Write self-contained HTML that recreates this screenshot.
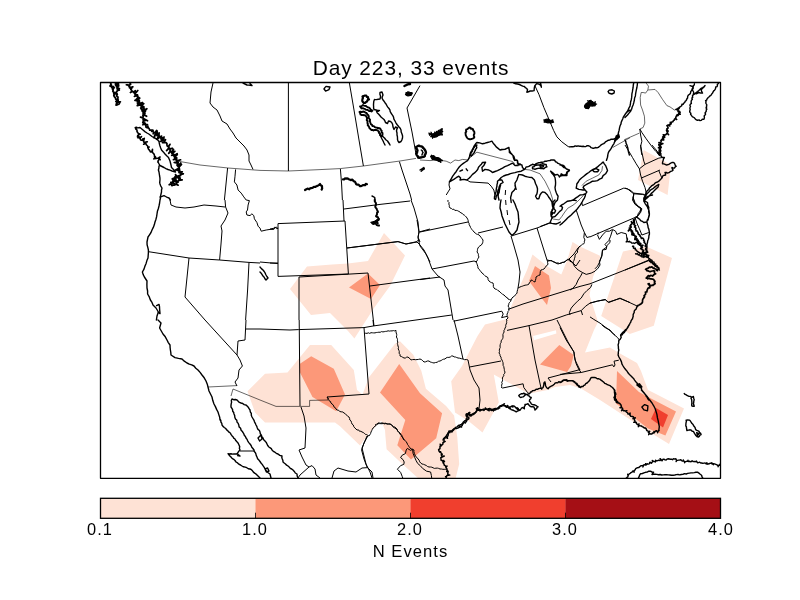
<!DOCTYPE html>
<html><head><meta charset="utf-8"><title>Day 223</title>
<style>
html,body{margin:0;padding:0;background:#fff;}
body{width:800px;height:600px;position:relative;overflow:hidden;font-family:"Liberation Sans",sans-serif;color:#000;}
.t{position:absolute;white-space:nowrap;line-height:1;will-change:transform;}
#title{left:0;width:822px;text-align:center;top:58.1px;font-size:20.9px;letter-spacing:0.93px;}
.tick{top:520.9px;font-size:16.4px;width:80px;text-align:center;letter-spacing:1.0px;}
#cbl{left:0;width:821px;text-align:center;top:543.7px;font-size:16.6px;letter-spacing:1.05px;}
</style></head><body>
<svg width="800" height="600" viewBox="0 0 800 600" style="position:absolute;left:0;top:0">
<defs><clipPath id="ax"><rect x="100.5" y="82.5" width="620" height="395.7"/></clipPath></defs>
<g clip-path="url(#ax)">
<path fill="#fee2d5" d="M290,289 307,266.4 332,264.4 348,263.6 368,261 384,233 405,255.6 390,286 374,308 354.4,338.4 348,331 330,313 311,315Z M532.5,254.5 547.5,266.5 561.3,274.5 567.5,259.5 572.5,242 580,246.5 600.5,256 598,265 593,277 589.5,295 595.5,314 598,322 594,330 585,352.5 610,347.6 620,353.6 637,363 641,371 648,390 656,394 684,408.4 669,444 656,436 640,426 600,400 581,388.5 570,385 555,387 547.5,390 528.8,393.8 493.8,374.5 498.8,402.5 482.5,432.5 468.8,421.2 455,412.5 451.2,381.2 462,366 477.5,336 485,324.5 507,319 511,307 519,288 527,270Z M623,251.5 646,246.4 672,258 653.8,325.8 629.8,334 601.2,316Z M643.6,150 671,165 667.6,195 638,180Z M247.5,391.2 265,373.8 287.5,372.5 310,345 331.2,345 353.8,370 357,390 362.5,394.5 368.8,377.5 395,343.8 400,341.3 413.3,354.7 421.3,370.7 425.9,388.8 446.1,405.9 454.1,415.5 457.3,437.3 459.2,464 455.2,480 420,480 417,477.2 399.4,461.2 386.6,449.2 385.5,437 385,430 381.2,420.5 367.5,435 360,445.5 340,426.2 335,422.5 265,422.5 255,412.5Z"/>
<path fill="#ffffff" d="M533,336 556,330.3 556.4,333.5 534,340.2Z"/>
<path fill="#fc9879" d="M349,287.6 368,273.6 380,285 371,299Z M300,363.8 311.2,356.2 333.8,368.8 345,394.5 336.2,411.2 312.5,397 300,372.5Z M399.2,364 420,393.3 442.1,413.3 436.2,438.3 411,459.6 397.3,445.3 405.3,420 380,392.5Z M535,266 549,275.6 551,288 547,305 540,296 529,281Z M540,364.5 559.3,345 573.7,355 571,366 567,372Z M617,371 639,392 652,399 676,411.6 665.4,435.6 648,428.4 616,403.6Z"/>
<path fill="#f03f2e" d="M656,408 668,415 663,427.4 651,419Z"/>
<path fill="none" stroke="#000" stroke-width="0.6" stroke-linejoin="round" d="M177,161 200,165 228,168 260,170.4 M260,170.4 288.4,171 320,169.6 340,168.6 363.4,166 400,161 416,158.4 M208,387 237,385.6 M231,396 233,389 260,400 M327,397 328,400 309.6,400.4 309.6,406.4 300,406.4 M260,400 276,406.4 300,406.4 M420,160 430,160.6 436.2,160 442.5,160.6 446.2,161.2 450.6,163.1 455,160 458.8,160.6 462.5,159.4 468.1,160 470,157.5 M470,157.5 476.9,152.2 512.5,161.5 515,163.8 M524.4,169.4 530,170 540,173.8 545,181.2 550,191.2 552.5,198.8 553.1,207.5 M581.9,185.6 586.2,181.2 592.5,178.1 598.8,175 601.9,170.6 602.5,166.2 M645.6,82.5 646.2,83.1 648.5,86.2 647.8,90 645.6,93.1 643.1,92.5 641.2,92.5 640.2,97.5 640.6,105 642.5,110 644.4,116.2 644.8,123.1 643.1,127.5 639.8,129 M648.1,90 655,89.4 658.1,92.5 662.5,99.4 666.9,105.6 670,106.9 674.4,110 676.2,109.4 M625,139.4 639.4,133.1 M612.9,147.4 630,137.7 M585,193.2 582,197 577.5,201.5 573,205.2 567.8,208.2 564.8,212 561.8,216.5 559.1,219.9 553.5,219.1 552,218"/>
<path fill="none" stroke="#000" stroke-width="1.0" stroke-linejoin="round" d="M213,83 211,92 210,103 213,107 217,110 220,116 222,121 227,124 230,129 233,133 236,138 240,142 244,146 247,150 249,155 249,161 251,165 253,169.4 M227.6,168 226,184 224.4,200 M278,223.6 345,221 348.4,274 278,276.4 278,223.6 M270,229 275,228 276.4,227 278,229 M270,263 278,263 M347,248 398,241.6 406,244 417,241.6 419,239 M299,277 368,273 374,326 M299,277 299,320 M370,286 430,278 M417,220 419,232 418,238 420,246 426,254 430,262 M419,232 430,229 M288.4,83 288.4,171 M349.4,83 354,110 359,140 363.4,166 M340.4,169 341.6,184 342.4,200 M399.4,161.6 402,170 406,182 410,194 411.6,200 M420,85.6 407,108 412,132 416,154 M170,200 171,205 176,207 185,208 194,207 204,205 216,206 225,207 M225,200 225.6,207 228,213 225,220 221,226 222,231 221,244 219.6,260 M148,251.6 189,258 219.6,260 249,262.4 260,263 M189,258 185,297 205,320 M249,262.4 247.6,290 245.6,320 M420,232 468,222 M448,200 447.9,201.4 449.1,202.6 448.8,204 449.3,205.3 449.3,206.8 450,208 451.3,208.4 452.4,209.4 453.9,209.2 454.8,210.4 456.3,210.4 457.6,210.7 458.8,211.4 460,212 460.9,212.9 462.3,213.4 463.1,214.5 464.3,215.1 465.3,216 466.2,216.9 467,218 467.7,219.2 468.2,220.6 468.3,222.1 469.1,223.3 469.2,224.8 470,226 470.5,227.4 471.3,228.6 472.1,229.8 473.1,230.8 474,232 475.1,232.9 476.2,233.9 477.6,234.4 479,234.9 480,236 481,237.3 482,238.7 483,240 482.9,241.4 482.7,242.8 482,244 481.2,245.2 479.9,245.9 478.8,246.8 478,248 477.5,249.3 477.4,250.7 477,252 477.9,253.1 478.4,254.3 478.4,255.8 479,257 478.2,258.2 477.5,259.5 477,260.9 476,262 476.8,263.4 477.3,264.9 477.8,266.4 478,268 478.9,269.3 480.1,270.4 481,271.8 482,273 483,273.8 484,274.7 484.9,275.7 485.8,276.5 487.2,276.9 488,278 488.1,279.6 489,281 490.2,282 491.5,282.6 493,283 493.4,284.7 493.3,286.4 494,288 495.1,289 496.6,289.3 497.7,290.4 499,291 500.1,292.2 501.4,293.2 502.5,294.3 504,295 505,296 505.9,297.1 507.3,297.7 508,299 509.5,299.6 511,300 510.7,301.3 509.6,302.3 508.9,303.4 508.7,304.9 508,306 508.9,307.4 509,309 508.9,310.4 508,311.5 507.8,312.9 507,314 507.1,315.4 507.6,316.7 508,318 507,319 506,320 M478,233 503,227 M507,210 507.6,215 M509,220 510,225 M511,236 514,246 518,260 520,272 519,282 518,288 M512.4,235.6 537,228 550,223 M537,228 542,244 547,260 M547,260 547.5,261.3 547.6,262.7 548,264 547.2,265.4 545.8,266.3 545,267.8 544,269 542.5,269.6 541,270 540.3,271.6 540.1,273.3 540,275 538.5,275.4 537.3,276.2 536,277 535.9,278.7 535.4,280.4 535,282 533.6,281.5 532.5,280.4 531,280 530.7,281.5 529.4,282.5 529,284 527.8,284.7 526.5,285 525.1,285.2 523.8,285.6 522.6,286.1 521.3,286.5 520,287 518,288 517.6,289.7 517.2,291.3 517,293 516.2,294.2 515.1,295.1 514.3,296.3 513,297 512,298 511,300 M547,260 552,261 558,264 564,262 569,259 572,262 576,266 580,260 M569,259 574,254 578,248 580,246 M432,269 474,261 477,262 M420,245 424,250 428,258 432,269 438,276 444,280 445,286 448,290 451,308 453,320 M420,279.6 440,277 M508,309.4 523,304 580,286.4 M453.6,321.2 501.8,311.2 503.2,314 501.6,317.6 507,316.4 M260,262 278,263.6 M343,200 344,221 M344,209 380,204.4 410,201 M411,200 414,208 418,222 419,232 418,237 420,242 M347,248 398,241.6 406,244 417,242 420,245 M205,320 237,355 M246,320 245,340 238,341 237,355 240,360 242.4,366 239,370 238,378 235,382 237,386 M246,329 260,329 M260,329 290,330 298.4,329.6 364,327.6 373,326 451.8,315 M373,320 373.6,326 M299.2,320 300,406 M364,327.6 369,394 M364.4,333.6 365.7,333.2 367,333.4 368.3,332.8 369.7,333.4 371,332.7 372.3,332.8 373.6,332.9 375,332.9 376.3,332.5 377.6,332.4 378.9,332.2 380.2,332.3 381.5,331.6 382.9,331.9 384.2,331.7 385.5,331.4 386.8,331.3 388.1,330.8 389.4,331.1 390.7,330.9 392.1,330.9 393.4,330.6 394.7,330.9 396,330.4 396,331.7 396.2,333 396.7,334.3 396.7,335.6 396.4,337 397.1,338.2 397.5,339.5 397.4,340.8 397.8,342.1 397.4,343.4 397.7,344.7 398,346 398.5,347.4 398.2,348.9 398.9,350.3 399.3,351.7 399.1,353.2 400,354.5 400,356 401.4,356.5 402.7,357.3 404,358 405.4,358 406.6,357.2 408,357 409,358 410.2,358.8 411,360 412.5,359.6 414,359.5 415.5,359.7 417,359.6 418.5,359.4 420,359 M369,394 327,397 M327,397 328.1,397.9 328.6,399.4 329.1,400.8 330.6,401.5 330.9,403 332,404 333.1,404.8 333.7,406 334.2,407.2 335.5,407.9 336,409.1 337,410 338.6,410.2 339.7,411.5 341.2,411.8 342.8,412 344,413 345.4,413.8 346.5,415 347.6,416.2 349,417 349.6,418.4 349.8,420 351.1,421.1 351.5,422.6 352,424 353.3,425 353.8,426.7 354.8,427.9 356,429 357,430 358.6,429.9 359.4,431.2 360.9,431.3 362,432 363.3,432.5 364.3,433.3 365.3,434.3 366.7,434.6 367.8,435.4 369,436 369.8,434.8 370.6,433.5 371,432 371.7,430.7 372.3,429.3 373,428 374.2,427.2 375,426 376.3,425.3 377.3,424.3 378,423 379.3,422.9 380.6,423.7 382,423.7 383.3,423.5 384.6,423.9 386,423.5 387.3,423.8 388.7,424 390,424 391.3,424.6 392.2,425.8 393.5,426.6 394.9,427.1 396,428 397,429.1 397.4,430.6 398.5,431.5 399.4,432.7 400,434 400.8,435.2 401.9,436.2 402.7,437.4 403.3,438.7 404,440 M454,320 458,336 463,359 M420,359 421.6,359.7 422.8,360.8 424,362 425.7,361.8 427.3,361 429,361 430.1,361.9 431.4,362.3 432.7,362.7 434,363 435.5,362.5 437.1,362.3 438.4,361.3 440,361 441.2,360.5 442.3,359.7 443.6,359.2 445,359 446,358 447.3,357.4 448.9,357.4 450.3,357 451.5,356 453,356 454.1,356.9 455.5,357 456.7,357.5 458,358 459.7,358.2 461.3,358.7 463,359 464.6,359.7 466.4,359.5 468,360 M468,360 470,370 474,380 479,388 480,400 479,409 M469.6,367 501,361 M507,320 506.6,321.3 506.7,322.7 506.2,324 505.7,325.3 505.8,326.8 505,328 504.7,329.3 503.9,330.6 504.1,332 503.4,333.3 502.9,334.6 503,336 503,337.4 502.7,338.6 501.9,339.8 501.1,340.9 501.2,342.3 500.5,343.4 500.2,344.7 500,346 500.2,347.5 499.6,348.8 499.3,350.2 499.5,351.6 499,353 499.9,354.3 500.1,355.9 501,357.1 501.2,358.7 502,360 502.5,361.3 503,362.6 503.1,364 503.1,365.4 503.8,366.6 504,368 504.3,369.3 504.4,370.7 505,372 504.7,373.3 503.7,374.3 503.8,375.8 503,376.8 502.4,378 502.5,379.4 502.5,380.9 501.7,382.3 502.2,383.7 501.6,385.1 501.7,386.6 501.6,388 M502.2,388.1 523.1,383.8 523.8,387.5 527.5,392.5 529.4,393.8 M507,330.4 529,325.6 552,320 M529,325.6 535,360 541,388 542,390 M557,320 568,342 574,352 575,360 580,370 M551,382 548,378 580,369.6 M240,451 254,451 M301,407 304,416 306,428 305,448 299,450 302,457 306,465 309,467 300,475 298,478 M309,467 312,465.6 315,469 316,475 320,478 M368,435.6 364,443 361.6,450 364,459 367,467 372,472 373,478 M332,478 334,471 338,468 348,471 356,472 362,468 368,467.6 M375,425 376.4,424.3 377.9,423.7 379.5,423.6 381,423 382.5,422.9 384,423.4 385.5,423.2 387,424.1 388.5,424 390,424 391.1,424.7 392.3,425.4 392.8,426.7 393.8,427.6 395.1,428.1 396,429 397.3,429.7 397.7,431.3 398.7,432.3 400,433 400.8,434.2 401.8,435.3 402.1,436.9 403,438 403.7,439.5 405.1,440.4 406.1,441.7 407,443 407.5,444.4 408.4,445.5 409.1,446.8 410.1,447.9 411,449 412.6,449.3 414,450 413.9,451.7 414.4,453.4 415,455 415.7,456.5 417.1,457.6 418,459 419.1,460.1 419.7,461.8 420.7,463 422,464 423.5,464.3 424.9,464.9 426.3,465.5 427.5,466.5 429,467 430.4,467 431.8,467.2 433.1,467.8 434.4,468.4 435.9,468.2 437.3,468.1 438.7,468.4 440,469 441.4,469 442.8,469.3 444.2,469.3 445.7,469.4 447,470 M367,436 362,448 366,464 370,472 372,478 M449.4,181.9 449,185 450,188.8 448.1,191.9 446.2,195 M466.9,180 470,181.9 488.1,183.1 491.2,186.2 493.8,190 495,195 M505.6,190 505.2,195 M505.6,200 506,205 M581.9,203.1 582.5,205.6 623.8,188.1 627.5,188.8 631.2,191.9 633.8,193.8 M633.8,193.8 633.1,197.5 635,202.5 638.1,206.2 641.2,208.1 640,211.2 638.1,213.8 637.5,216.2 635,218.8 633.8,221.9 M576.2,210 581.2,225 M633.8,193.8 642.5,194.4 646.2,195.6 M639.8,129 641.9,132.5 646.2,138.8 651.2,145.6 655.6,151.2 658.8,153.8 M639.8,129 640.6,135 641.9,141.2 640.6,146.2 641.2,151.2 641.9,155 M625,145 628.8,151.2 632.5,157.5 636.2,163.8 639.4,168.8 640.6,175 642.5,181.2 645,187.5 646.2,192.5 645.6,195 644.4,198.8 M640.6,145 641.9,152.5 643.8,161.2 645,164.4 M651.9,145 656.2,150 660,156.2 M639.4,168.8 645,164.4 658.8,158.1 662.5,157.5 M641.2,178.1 660,170 M658.8,170.6 661.9,178.1 M625,188.1 630,190 633.8,193.1 644.4,194.4 M633.8,193.1 633.1,198.8 635,203.8 638.8,207.5 641.9,208.8 640.6,212.5 637.5,216.2 635,218.8 632.5,220 M633.8,195 632.5,200 635,204.4 639.4,206.9 641.2,208.8 640,212.5 638.1,215.6 635,217.5 M590,236.9 635,217.5 M635,217.5 636.9,223.1 639.4,228.8 641.9,235 648.8,232.5 M597.5,235 599.4,239.4 602.5,235 606.2,231.2 609.4,231.2 612.5,229.4 615.6,231.2 616.9,234.4 621.2,232.5 626.2,233.8 626.9,238.1 M612.5,230 610.6,236.2 608.8,240.6 605,244.4 606.9,246.9 602.5,250 601.9,255 600,261.2 597.5,266.2 595,268.8 M625,270 648.8,260 M590,283.8 648.8,260.6 M590,303.1 597.5,301.2 605,299.4 608.8,302.5 620,298.1 637.5,306.2 M590,316.9 593.8,319.4 600,323.1 605,326.9 610,330.6 613.1,333.8 615,335 M560,327.5 566.2,340 573.8,351.9 574.4,356.2 576.2,363.8 578.8,369.4 581.2,372.5 M560,374.4 581.2,372.5 612.5,364.8 613.8,366.9 615,365 614,361.2 618.8,360.2 M601.9,325 605,327.5 610,330 613.8,334.4 617.5,337.5 619.4,340 M547.5,261.2 548.9,260.9 550.4,260.5 551.9,260.6 553.1,261.8 554.9,262.2 556.2,263.1 557.9,262.9 559.6,263.5 561.2,263.1 562.4,262.3 563.8,262.5 565,261.9 566.2,260.5 567.5,259.4 568.9,260.1 570,261.2 571.6,262.1 573.1,263.1 573.3,261.6 574.1,260.2 574.4,258.8 575,256.9 575,255 576.2,253.7 577.5,252.5 577.5,250.6 578.1,248.8 578.9,247.4 580,246.2 581.2,245.4 582.3,244.3 583.8,243.8 584.4,242.6 584.3,241.1 585,240 M573.1,263.1 574.4,266.2 578.1,270 582.5,272.5 M582.5,272.5 586.2,274.4 591.2,273.1 595,271.2 598.1,268.1 600,265 599.4,261.2 601.9,256.2 602.5,250 606.2,249.4 606.9,245.6 610,242.5 610,240 M582.5,272.5 580.6,276.2 578.1,280 576.2,284.4 573.1,288.1 570,290 M591.9,284.4 590.6,287.5 586.9,290.6 583.8,293.8 581.2,298.1 577.5,301.2 573.8,305 571.2,308.1 569.4,312.5 570,315 M566.2,315 581.2,310.6 585.6,306.2 590,303.1 597.5,301 605.6,299.8 608.1,302.2 620,298.5 630,302.5 M581.2,310.6 582.5,315 M534.9,85.7 539,94.6 543.9,107.6 548.8,119 553.6,130.4 556.9,136.9 561.8,141.8 568.2,146.6 569.9,146.9 M552,320 566.2,315 M540,226.6 549.4,222.9 M581.2,225 584.4,232.5 586.9,237.5 590,236.7 M585,240 583.8,237.5 584.4,232.5 M598.1,232.5 598.1,234.4 M580,286.4 590,283.8 M235.6,169.4 235,176.2 234.4,181.9 236.9,185 238.1,190 241.2,193.1 243.8,196.9 246.2,200 249.4,200.6 248.1,205 247.5,210 246.2,211.9 246.9,215 250,215.6 251.9,213.8 253.8,215.6 254.4,218.8 256.9,222.5 258.1,226.2 260,228.1 261.2,231.2 266.2,230 270,229.4 273.8,229.4 275,226.9 276.9,228.8 278.1,228.1 M412.6,449.2 410.6,450.4 407.4,448.4 406.2,450 405.4,453.6 402.2,455.2 400.6,457.6 403,459.6 404.2,462 403.8,464.4 400.6,465.6 397.4,469.2 400.6,472.4 402.2,476.4 403,478.8 M412.6,449.2 413,453.2 414.6,457.2 416.2,460.8 417.8,463.6 420.2,465.6 422.6,468.4 426.6,471.2 430.6,472 431.4,475.6 431.8,478.8"/>
<path fill="none" stroke="#000" stroke-width="1.4" stroke-linejoin="round" stroke-linecap="round" d="M135.5,128 137.8,127.9 140,127.5 143,130 144.9,131.6 147,133 148.8,134 150.4,135.2 152,136.5 154.4,137.9 157,139 159,141.5 159.4,143.8 160,146 160.7,148 161.5,150 163.3,151.9 165,154 166.7,155.8 168.5,157.5 170,161 170.5,163 171,165 171.5,167.5 174,170 175.5,172 172,171 170,170.2 168,169.5 165.9,168.6 164,167.5 162,166.5 160,165.5 159,163.8 158,162 M159,166 158.9,168 158.4,170 159,172 159.3,174 159.6,176 159.9,177.6 160,179.2 159.9,180.8 159.7,182.4 160,184 160.8,186.1 162,188 161.5,190 161.5,192 161,194 160.6,196 160.5,198 160,200 M160,197 162,196.4 164,195.6 165.6,196.5 167.3,197.4 169,198 170.4,200 M243,83 245,84 247,85 248.7,85.1 250.4,85.2 252,85.6 250,83.6 M371,222.4 373,221.8 375,221.6 376.4,222.7 378,223.6 377.6,221.8 377,220 M324,89 324.9,87.6 326,86.4 328,86.7 330,87 329,89.6 327.3,90.4 325.6,91 324,89 M372,196 373.7,196.8 375,198 374.4,200 M160,200 159.6,203 159,206 158.3,208.7 157.4,211.3 157,214 156.6,216.7 155.9,219.4 155,222 154.3,224.8 153.3,227.4 152,230 151,232.5 149.5,234.8 148,237 147.5,239.5 147,242 147.1,244.7 147.8,247.4 148.4,250 148.4,252.7 148.2,255.3 148,258 146.9,260.6 146.1,263.4 145,266 144,269.1 142.4,272 143.2,274.6 144.4,277 147,281 146.9,284.5 147,288 147.6,291 147.6,294 149.3,296.9 150.4,300 152,302.4 153,305 156,308 158.4,312 157,316 156.4,320 M156.6,305.6 159,304.4 159.5,306.7 159.6,309 159.8,311.3 160,313.6 158,312 M501,200 500.3,204 500,208 501.2,212 502,216 503.5,220 505,224 507,228 509,232 512,235.6 514.7,233 517,230 517.9,226 519,222 518.6,218.7 518.4,215.3 518,212 516.4,208 515,204 513,200 M260,267 261.4,268.6 263,270 264.2,271.5 265.2,273.2 266,275 266.9,276.5 268,278 266,280 264.9,278.7 264.2,277.2 263,276 262.1,274.6 261.2,273.2 260,272 M158,320 161,323 160.3,325.5 159.6,328 161.3,331 163,334 165.3,336.8 167,340 168.3,342.6 170,345 170.1,347.5 170.4,350 170.8,352.5 171,355 175,357.6 178.5,358.4 182,359 184.3,361.2 187,363 189.3,364.1 191.7,364.9 194,366 195.8,368.2 198,370 200.1,372.4 202,375 204.2,377.8 206,381 207.2,383.9 208,387 209,391 210.5,394 212,397 212.8,400.6 214,404 215.4,406.6 216.6,409.4 218,412 218.8,414.6 219.7,417.3 220,420 M443,440 443.7,438.4 445,437.2 446.2,436 447.2,434.5 448,433 449.4,432.3 450.5,431.2 451.9,430.7 453,429.6 454.4,428.7 455.6,427.4 457.2,426.8 458.4,425.5 460,425 461.4,424.3 462.6,423.3 463.4,421.9 464.5,420.9 466,420.2 467,419 467,417.3 467.4,415.6 468,414 470,416 471.1,414.8 472.6,413.9 474.1,413.1 475.6,412.4 476.5,410.8 478,410 479.7,410.3 481.2,409.7 482.8,409.8 484.4,409.5 486,409 M486,409 487.5,410 488.8,410.1 490,409.7 491.2,410.5 492.5,410.4 493.8,410 495,410 496,409.5 496.7,408.5 497.7,407.9 498.8,407.5 499.5,406.4 500.6,405.6 502.1,405.8 503.5,405.3 505,405.6 505.7,406.6 507.1,406.5 508,407.2 508.8,408.1 510.2,408.4 511.1,409.6 512.5,410 513.8,410.5 515,411.2 516.2,411.9 517.4,411.1 518.8,410.7 520,410 520.8,409.1 521.5,408.1 522.5,407.5 523.5,408.1 524.4,408.8 524.3,407.6 524.3,406.5 525.2,405.5 525,404.4 526.6,404.2 528.1,403.8 528.9,405.1 530,406.2 531.2,406.8 532.5,406.6 533.8,406.9 534.3,407.9 534.7,408.9 535,410 535.7,409.2 536.7,408.6 537,407.3 538.1,406.9 537.1,406.3 536.1,405.6 535,405 533.7,404.7 532.3,404.6 531.2,403.8 530.5,402.4 529.4,401.2 529.6,399.8 530.7,398.8 531.2,397.5 530.1,397.2 529.4,396.2 528.1,395.6 527.5,394.4 526.1,394.3 524.9,394 523.8,393.1 522.6,393.8 521.2,393.8 519.9,394.5 518.8,395.6 519.5,396.7 520.6,397.5 521.8,397.1 523.1,396.9 524.2,396 525,395 526.2,394.6 527.5,394.2 528.8,393.8 529.9,393.3 530.5,392 531.8,391.7 532.5,390.6 533.8,390.5 535,390.2 536.1,389.2 537.5,389.4 538.6,388.7 539.9,388.3 541.2,388.3 542.5,388.1 543.2,387.2 543.5,386 543.8,384.9 543.8,383.8 544.1,382.6 545,381.9 545.1,383.2 545.4,384.4 545.6,385.7 546.2,386.9 547,388 548.1,388.8 548.9,387.6 550,386.8 551.2,386.2 552.4,385.7 553.3,384.9 554.3,384.2 555,383.1 556.2,382.8 557.6,382.9 558.7,381.8 560,381.9 561.4,381.8 562.6,381.3 563.7,380.3 565,380 566.3,379.7 567.5,380.4 568.7,380.7 570,380.6 571.3,380.7 572.6,380.6 573.8,381.2 574.8,381.9 575.4,383.1 576.8,383.3 577.5,384.4 578,385.5 579.3,385.9 580,386.9 M220,419 220.8,420.4 220.9,422 221.8,423.4 222,425 223,426.4 224.3,427.5 225.7,428.5 226.7,429.9 228,431 229,432.2 230.3,433 231,434.4 231.9,435.7 233,436.7 233.7,438.1 235,439 235.8,440.6 237.1,441.9 238.2,443.3 239,445 239.7,446.6 239.4,448.4 240,450 238.8,451.2 237.9,452.6 237,454 235.5,454 234,453.9 232.5,454.1 231,453.7 229.5,454 228,453.6 228.9,454.8 229.9,456 231,457 232.1,458.4 233.7,459.3 235,460.5 236,462 237.6,462.9 238.9,464.2 240.5,465 242,466 243.5,466.8 245.2,467.1 246.8,467.7 248.3,468.8 250,469 251.4,469.7 252.5,470.8 253.4,472.1 254.6,473.1 255.9,473.9 257,475 258.5,476.5 260,478 M232,399 231.3,400.5 231.6,402.2 231.2,403.8 231,405.4 231,407 231.9,408.3 232.6,409.6 232.7,411.2 233.7,412.5 234,414 234.7,415.6 234.8,417.3 235.5,418.9 236.8,420.3 237,422 238.2,423.4 238.8,425.1 239.1,426.9 240.6,428.2 241,430 242.1,431.2 243,432.5 243.8,433.8 244.3,435.3 245.4,436.5 246,438 247.1,439.4 247.8,441.1 248.8,442.6 250,444 251.1,445.5 251.8,447.2 252.9,448.5 254,450 254.3,451.5 255.4,452.7 255.9,454.1 256.3,455.6 257,457 257.6,458.7 258.9,460.1 260,461.5 261,463 262.2,464.4 263.2,465.9 264.2,467.3 265,469 265.9,470.6 267.2,471.8 268.5,473 270,474 270.5,476 271,478 M232,399 233.6,399.7 235.4,399.5 237,400 238.2,401.2 239.4,402.4 241,403 242.7,403.5 244.2,404.6 246,405 247.1,406.1 248.3,407.3 249.1,408.7 250,410 250.3,411.8 251.3,413.4 251.3,415.3 252,417 252.9,418.5 253.9,420.1 254.5,421.8 255.3,423.3 256,425 256.8,426.4 257.3,428 258,429.4 259.4,430.5 260,432 260.3,433.7 261.4,435.1 261.8,436.7 263,438 263.7,439.7 265,441 266.2,442.4 267,444 267.7,445.5 268.6,446.7 269.9,447.7 271.3,448.6 272,450 273.3,451.3 274.9,452.2 276.3,453.3 278,454 279.8,455.4 282,456 281.8,457.6 282.3,459 282.9,460.5 283,462 284.2,463 285.5,464 286.6,465.2 288,466 289.2,467.1 290.3,468.3 291.7,469 293,470 294.3,471.4 295.3,473 297,474 297.2,476.1 298,478 M258,438 261,435 262,439 259.6,441 258,438 M265,469 267.6,468 269,471 266.4,472 265,469 M237,453.6 240,456 237.6,455.6 M684.2,393.6 685.1,394.4 686.3,394.9 687.4,395.7 688.6,396.2 690.3,396.4 691.8,397.3 693.4,396.5 693.7,398.2 694.2,399.8 693.8,401.1 693.7,402.5 693.4,403.8 693.9,405 694.2,406.2 693,406.3 691.8,405.9 691.7,404.4 691.9,402.9 691.8,401.4 691.7,399.7 691,398.1 M686.1,420.1 687.8,419.9 689.4,420.1 690.4,421 691.1,422.2 691.8,423.3 692.8,424.2 693.5,425.4 694.2,426.6 695.1,427.5 695.3,428.7 695.9,429.8 696.9,430.4 698.1,430.8 699.1,431.4 699.6,432.6 700.7,433.4 701.1,434.7 699.9,435.2 699.3,436.4 698.3,437.1 696.9,436.5 695.9,435.5 695,434.2 694.2,432.8 693.4,431.4 692.2,431.2 691.3,430.2 690.2,429.8 688.5,430.1 686.9,430.6 686.7,429.4 686.5,428.2 686.4,426.9 685.8,425.8 685.9,424.3 686,422.9 686.4,421.5 686.1,420.1 M696.7,432.6 699.1,433.6 697.5,435.5 696.7,432.6 M625.2,478.6 626.4,478.3 627,477.4 627.9,476.9 628,475.6 627.7,474.3 628.3,475.3 628.6,474.6 629.2,473.8 630.2,473.3 631,472.6 632,472.2 632.5,471.2 633.4,471.5 632.8,471 633.7,471.3 634.1,472.2 634.1,471.1 634.3,470.3 635.2,469.8 635.7,468.6 636.6,468.1 637.5,467.7 638.7,467.6 639.5,466.9 640.3,466.2 641.2,465.7 642.2,465.6 643.2,465.3 642.9,467 643.6,465.2 644.1,464.6 645.3,465 646.3,464.8 645.6,463.6 646.7,464.6 647.1,463.8 648.3,464.1 649.3,463.9 649.8,462.3 651.2,463.3 650.2,462.3 651.6,463.1 652,462.3 652.8,461.6 652.3,460.4 653.2,461.5 653.8,461.2 655.2,462 655.9,461.1 655.6,460.2 656.3,460.9 656.9,460.7 657.9,460.5 658.9,460.2 659.9,460.6 660.9,459.8 660.1,458.6 661.3,459.7 662,460.8 662.9,459.3 663.9,459.2 665,459.9 666.1,460 667.1,459.1 668.2,458.8 669.3,459 670.4,459.2 671.5,459.1 672.6,459.7 673.6,458.6 674.8,459.1 675.9,458.7 676.5,460.3 676.1,461.6 676.9,460.4 677.5,460.4 678.6,460.1 679.7,460 680.8,459.8 681.6,460.6 682.5,461.1 683.6,461.1 683.3,460 683.9,461.2 684.5,461.5 684.6,462.7 684.9,461.6 685.6,461.7 686.7,461.3 687.8,461.3 688,460.1 688.1,461.3 688.8,461.5 689.9,461.3 691,461.8 692.1,460.8 693.2,461.6 694.2,461.5 695.3,461.7 696.5,461.1 697.4,462.7 698.5,462.6 699.7,462.2 700.7,463 701.8,463 702.8,463.4 704,463.1 705.1,462.9 706,463.9 707,464.1 706.8,462.6 707.4,464.2 708,464 709.1,463.8 710.2,463.2 711.2,463.2 712.1,463.9 711.9,462.8 712.5,464 713.4,463.8 713.4,464.8 713.8,463.8 714.6,463.9 715.8,464.3 717,464.8 717.9,465.7 718.2,466.7 718.3,465.8 719.1,464.9 720,465.4 719.9,464.3 720.4,465.4 721.1,465.6 721.3,466.7 721.5,465.6 M638.2,478.6 639,476.9 639.6,475.2 640.6,473.7 642.4,473.5 643.9,472.8 645.5,472.3 647.2,472.1 648.8,471.2 650.4,471.2 652,472 653.6,472.1 652,474.5 653.6,474.3 655.2,474.3 656.9,474.4 658.5,474.7 660.1,474.5 661.7,475 663.4,474.9 665,474.7 666.6,474.7 668.3,474.9 669.9,475 671.5,475.3 673.1,475.2 674.8,475 676.3,474.6 678,474.5 679.7,474.9 681.2,474.5 682.9,474.4 684.4,473.6 686.2,474 687.7,473.4 689.4,473.1 691,472.9 692.7,472.9 694.3,472.6 695.9,472.2 697.5,472.1 698.9,473.1 700.2,474.3 701.6,475.3 702.1,477.1 703.2,478.6 M641.9,407.1 644.7,404.6 647.9,405.9 647.5,410.8 643.9,409.8 641.9,407.1 M641.4,390 644.3,393.3 647.1,396.5 649.5,399.8 652,403 653.7,405.8 655.2,408.7 656.9,414.4 657.4,417.7 658.2,420.9 659.3,426.6 658.8,430.6 M421.2,150 422.2,150.6 422.4,151.7 423.1,152.5 422.4,153.7 421.9,155 M420,170 421.9,168.8 423.8,167.5 424.4,168.8 422.7,169.9 421.2,171.2 M449.4,181.9 451.2,178.8 452.7,176.2 454.4,173.8 456.1,171.7 457.5,169.4 459.2,167 461.2,165 463.3,163.4 465.4,162 467.5,160.6 468.6,158.9 469.4,156.9 469.9,154.7 470.6,152.5 471.9,150.3 473.1,148.1 474.2,145.8 475.6,143.8 476.9,142.5 479.7,142.9 482.5,143.8 485,143.2 487.5,142.5 489.7,141.9 491.9,141.2 493.2,143.2 494.8,145 496.2,146.9 498.1,148.4 500,150 502.5,149.5 505,149.4 506.8,148.3 508.8,147.5 509.3,150 509.4,152.5 511.7,154.2 513.8,156.2 515,160 517.5,160.6 518.1,163.8 520,164.4 M470.6,154.4 471,153.3 471.5,152.2 472.3,151.2 472.5,150 473.3,149.3 473.4,148.2 474.2,147.5 474.8,146.7 475,145.6 476.9,145 476.4,146.2 476.8,147.6 476.2,148.8 475.4,149.4 475.4,150.6 474.5,151.3 474.5,152.4 473.8,153.1 473.1,153.9 472.6,154.7 471.8,155.4 471.2,156.2 470.6,154.4 M449.4,181.9 451.6,180.6 453.8,179.4 456.2,177.7 458.8,176.2 460.6,178.1 460,180 463.8,179.4 466.9,180 469,178.3 470.8,176.4 472.5,174.4 474.5,172.9 476.2,171.2 477.7,169.5 478.5,167.3 480,165.6 481.4,164.2 482.5,162.5 485.6,162.2 483.8,165.6 481.9,167.5 482.5,171.2 485,169.4 488.8,170 490.8,171.1 492.5,172.5 495,171.5 497.5,170.6 500,169.4 502.5,168.1 504.9,166.7 507.5,165.6 510,164.4 512.5,163.1 515,165.6 518.8,165 520,164.4 M460,171.2 462.5,170 M466.2,168.8 467.5,170.6 M516.9,160 517.5,161.5 517.5,163.1 519.4,164.4 521.9,165 522.5,167.5 524.4,169.4 M515,165.6 518.1,165.6 520,163.8 M497.5,181.2 499.4,179.4 501.2,177.5 503.6,176 506.2,175 508.4,174.5 510.4,173.6 512.5,173.1 515,172.6 517.5,171.9 521.2,171.2 524.4,169.4 M518.8,174.4 517.8,177.2 516.9,180 515,183.1 515.2,185.3 515.6,187.5 514.4,190 511.9,192.5 511.3,195 510.6,197.5 510.9,200 511.2,202.5 M518.8,174.4 522.5,175 524.9,176.2 527.5,176.9 529.7,177.4 531.9,177.5 534.4,180 535.6,183.8 536.8,186.2 537.5,188.8 537.4,191.3 536.9,193.8 535.6,196.2 536.9,198.8 538.8,198.8 540,195 541.1,193.3 542.5,191.9 545,192.5 547.5,195 548.6,197 550,198.8 551.9,201.9 552.2,204.1 552.5,206.2 553.1,208.1 M553.1,208.1 551.9,210 551.9,212.5 554.4,213.1 555.6,210.6 553.8,208.5 M552.5,213.8 551.9,215 M497.5,181.2 497.5,182.9 497,184.6 496.9,186.2 496.4,188.1 496.2,190 496.1,191.7 495.4,193.3 495,195 494.5,196.8 494.4,198.8 495.6,199.4 496,197.9 496.2,196.4 496.9,195 497.6,193.4 497.7,191.7 498.1,190 498.9,188.2 499.4,186.2 500.6,183.8 503.1,182.5 501.9,180 500.3,179.9 498.8,180 M500.6,185 499.9,187.5 499.4,190 499.2,192.1 498.3,194.1 498.1,196.2 499,200 M515,185.6 516.2,189.4 M524.4,169.4 525.5,168.2 526.2,166.9 527.6,166.7 528.9,166.4 530,165.6 531.2,165 532.4,164.3 533.9,164.7 535.1,164.3 536.3,163.6 537.5,163.1 538.7,162.8 540,162.6 541.2,162.1 542.6,162.2 543.8,161.8 545,161.2 546.3,161.2 547.5,160.9 548.8,160.6 550,160.5 551.2,159.9 552.5,160 553.8,160 554.9,160.5 555.4,161.8 556.8,162.1 557.5,163.1 558.8,163.7 560.1,164.2 561.2,165 562.5,166.2 563.8,167.5 565.3,167.9 566.6,169 568.1,169.4 569.4,170.6 568.3,171.5 566.9,171.9 566.4,173.4 566.2,175 564.9,174.8 563.8,175.6 562.6,174.6 561.2,173.8 560.9,174.9 560.3,176 559.4,176.9 558.7,175.5 557.5,174.4 556.2,174.7 555,175 553.8,173.7 552.5,172.5 550.6,171.2 M550.6,171.2 551.7,173 553.1,174.4 555,177.5 555.4,180 555.6,182.5 555.5,185 555,187.5 555.4,190.1 556.2,192.5 557,194.5 558.1,196.2 557.5,200 555,202.5 554,205.3 553.1,208.1 M532.5,166.9 533.9,166.8 534.9,165.6 536.2,165.3 537.5,165 538.8,165 540.1,164.7 541.3,164.1 542.5,163.8 543.7,164 545,164.4 546.2,164.4 546.2,165.7 546.9,166.9 545.7,167.2 544.7,167.9 543.8,168.8 542.3,168.5 540.8,168.5 539.4,168.1 537.9,168.4 536.4,168.7 535,169.4 533.8,168.9 532.5,168.8 532.5,166.9 M540,165.9 543.8,165.4 543.1,166.9 540.6,167.1 540,165.9 M576.2,188.1 576.6,185.9 576.9,183.8 578.3,182 579.4,180 581.5,178 583.8,176.2 585.4,174.9 587,173.6 588.8,172.5 590.8,170.8 593.1,169.4 595.4,168.3 597.5,166.9 599.3,165.2 601.2,163.8 603.1,161.9 604.3,163.8 605.6,165.6 606.6,168.1 607.5,170.6 605.6,173.8 603.1,175.6 601.9,178.1 599.6,179.2 597.5,180.6 595,181.1 592.5,181.2 590.1,182.7 587.5,183.8 585.6,185 583.8,186.2 583.1,187.5 585,190 582.9,190 580.8,189.6 578.8,189.4 576.2,188.1 M592.5,170 593.6,169.6 594.5,169 595.6,168.8 596.8,168.9 597.7,169.5 598.8,170 598.3,171 597.5,171.9 596.3,171.6 595,171.9 593.8,171.5 592.5,170 M585,190 586.9,191.9 585.6,193.8 M585.6,193.8 582.9,194.6 580,195 577.9,196.6 575.6,198.1 573.1,200 570.4,200.8 567.5,201.2 565.6,202.5 563.8,203.8 561.8,204.9 560,206.2 M573.1,200 576.2,200.6 M585.6,193.8 585.2,196 584.4,198.1 583,200.2 581.9,202.5 580.4,204.8 578.8,206.9 577,209.2 575,211.2 573.1,213.1 571.2,215 569.5,216.4 567.8,217.7 566.2,219.4 564.4,221.3 562.5,223.1 560,225 M560,165 561.3,165 562.6,165.1 563.8,165.6 564.6,166.6 565.1,167.9 566.2,168.8 567.7,169.6 569.4,170 568.3,171.1 567.5,172.5 566.9,174 566.9,175.6 565.4,175.6 564,175.3 562.5,175.6 561.2,175.8 560,176.2 M633.8,82.5 633.3,85 633.1,87.5 632.7,89.6 632.4,91.7 631.9,93.8 631.8,95.8 631.6,97.9 631.2,100 630.6,102 630.4,104.2 630,106.2 628.6,108.7 627.5,111.2 626.2,112.8 625,114.4 M637.5,82.5 637.3,85 636.9,87.5 636.4,89.6 636,91.7 635.6,93.8 635.4,95.9 634.6,97.9 634.4,100 633.8,102.5 633.1,105 632.2,107 631.6,109.2 630.6,111.2 629,113.1 627.5,115 625,117.5 M625,140 625.8,141.6 626.1,143.4 626.9,145 627.4,146.6 627.9,148.3 628.1,150 628.4,151.7 628.9,153.3 629.4,155 M676.2,109.4 677.5,109.2 678.1,108.1 679.1,107.6 680,106.9 680.9,106.3 681.8,105.6 681.9,104.2 683.3,104.2 683.8,103.1 684.7,102.5 685.1,101.4 685.9,100.7 686.6,99.8 686.9,98.8 687.6,98 687.6,96.9 687.9,95.9 688.5,95 689.4,94.4 690.2,93.7 690.6,92.7 690.7,91.7 691.3,90.8 691.9,90 692.1,88.9 693.3,88.1 693.1,86.9 693.5,85.8 694.3,84.9 694.4,83.8 M690,85.6 691.5,86.2 693.1,86.2 692.5,88.8 692.9,90.7 693.8,92.5 693.1,95 694.8,93.9 696.2,92.5 697.6,91.5 698.8,90.5 700,89.4 701.2,88.4 702.6,87.6 703.9,86.8 705,85.6 703.9,87.2 702.3,88.4 701.2,90 701.7,91.6 702.5,93.1 700.6,93 698.8,92.5 696.2,93.8 M693.1,95 692.4,95.9 692.8,97.2 691.8,98 692.4,99.3 691.5,100.2 691.2,101.2 691.1,102.3 691.4,103.4 690.3,104.3 689.9,105.3 690.5,106.5 690,107.5 689.9,108.5 690.2,109.5 689.9,110.5 689.7,111.5 690,112.5 690.9,113.2 690.6,114.5 691.4,115.2 691.9,116.1 692.5,116.9 693.5,117.2 694.3,117.8 695,118.6 695.6,119.4 696.6,120 697.7,120.3 699,119.9 700,120.6 701.3,120.4 702.3,119.3 703.8,119.4 704.3,118.3 704.4,117.2 704.1,115.9 705,115 705.6,114.1 705,112.9 705.8,112 706.3,111.1 706.2,110 706.9,109.1 706,107.9 706.7,107 706.4,106 706.9,105 706.3,104 705.8,102.9 706.1,101.7 705.6,100.6 706.6,100.2 706.9,99.1 707.6,98.4 708.1,97.5 709,97 709.6,96.2 710.5,95.6 711.2,95 711.8,93.9 712.6,93 713.1,91.9 713.7,90.9 714.6,90.2 715.3,89.2 715.6,88.1 715.7,87 717,86.6 717.4,85.7 717.3,84.4 718.1,83.8 718.8,82.5 M658.8,145 659.5,145.9 659.3,147.1 660.3,147.8 660.4,148.9 660.6,150 660.9,151 660.3,152 660.6,153 661,154 660.6,155 661.1,155.9 661.6,156.9 662.5,157.5 M662.5,157.5 664.4,157.5 663.5,158.9 663.1,160.6 662.6,162.1 662.5,163.8 663.8,163.9 665.1,164.4 666.2,165 667.5,164.8 668.8,164.4 669.8,163.7 670.8,163.1 671.9,162.5 673.2,162.4 674.4,163.1 674.9,164.2 675.3,165.4 676.2,166.2 675.1,167 674.4,168.1 673.1,168 671.9,167.5 672.2,168.9 673.1,170 672.3,170.9 671,171.2 670,171.9 668.9,172.7 667.5,173.1 666.3,172.5 665,172.5 665.5,173.7 665.6,175 664.4,175.2 663.1,175.6 662.5,176.7 662.1,177.8 661.2,178.8 660,180 658.8,181.2 657.6,182 656.2,182.4 655,183.1 654.1,184.2 653.1,185 651.9,185.6 650.6,186.9 649.4,188.1 648.8,189.4 647.8,190.3 646.9,191.2 646.1,192.4 645.9,193.9 645,195 M645.6,195 647.2,193.6 648.6,192.2 650,190.6 651.6,189.3 653.4,188.3 655,186.9 656.8,185.5 658.8,184.4 658.1,186.9 656.2,188.7 654.4,190.6 652.9,192.1 651.3,193.4 650,195 648.2,196.9 646.2,198.8 643.8,200.6 643.8,198.1 645.6,195 M644.4,198.8 643.8,201.2 644.6,202.5 645.3,203.8 646.2,205 647.3,206.6 647.9,208.3 648.8,210 648.7,211.7 649,213.4 649.4,215 648.9,216.7 648.4,218.3 648.1,220 M646.2,195 645.3,196.9 644.4,198.8 645,201.2 647.5,202.5 647.7,204.2 648.2,205.9 648.8,207.5 648.6,209.1 649,210.6 649.2,212.2 649.4,213.8 649.1,215.5 648.7,217.1 648.1,218.8 647.3,220.2 646.9,221.9 645.3,222.2 643.8,222.5 642.3,221.3 640.6,220.6 639.6,219.2 638.1,218.1 636.2,216.9 M643.8,200.6 645.1,199.1 646.2,197.5 648,196.4 650,195.6 652.5,195 M646.9,221.9 647.3,223.8 647.9,225.6 648.1,227.5 648.8,229.1 649.1,230.8 649.4,232.5 649.4,234.2 648.9,235.8 648.8,237.5 648.4,239.2 647.7,240.8 647.5,242.5 647,244.1 646.9,245.8 646.9,247.5 646.7,249.7 646.9,251.9 M626.9,238.1 627.5,239.2 626.9,240.1 627.3,241.1 626.2,241.9 627.2,241.3 628.4,241.9 629.4,241.2 630,242 631,242.1 631.5,243 632.5,243.1 633.4,242.9 634.5,243.5 635.3,242.9 636.2,242.5 637.4,242.4 637.8,243.5 638.6,243.9 639.4,244.4 M632.5,246.2 633.7,246.3 633.3,248 634.2,248.3 635.4,248.3 635.2,249.8 636.2,250 636.8,250.6 637.1,251.5 638,251.7 638.5,252.3 639.4,252.5 639.7,253.4 640.8,253.3 641.8,253.4 641.4,255.1 642.5,255 643.6,254.7 643.9,255.9 644.3,257 645.6,256.2 646.2,256.9 M635.6,253.8 636.6,254 637.7,253.8 638.2,255 639.4,254.6 640,255.6 640.8,256 641.6,256.1 642.1,257.1 643.3,256.6 643.8,257.5 M647.5,256.9 648.2,257.3 648.6,258.1 649.3,258.5 650,259 650.4,259.8 651.2,260 652.1,260.4 652.1,261.7 653.1,261.9 654.1,262.2 654.2,263.3 655,263.8 655.8,264.2 655.6,265.4 656.4,265.8 657.4,266 657.2,267.2 658.1,267.5 658.7,268.2 658.5,269.4 659.4,270 M637.5,306.2 636.6,307.5 636.2,309 635,310 634.2,311.1 634.2,312.6 633.5,313.7 633.1,315 633.2,316.3 632.8,317.5 632.5,318.8 631.7,319.8 631,320.8 630.8,322.1 630,323.1 629.6,324.3 629,325.5 628.1,326.4 627.5,327.5 626.8,328.8 626.1,330.2 625,331.2 624.4,332.4 623.4,333.1 622.6,334 621.9,335 M628.8,325 628.1,327 626.9,328.8 625.3,329.8 624.1,331.4 622.5,332.5 621.7,333.8 620.6,335 621.2,337.5 620.2,339.2 618.8,340.6 618.7,342.9 618.1,345 618.4,346.7 618.4,348.3 618.8,350 618.4,351.6 618.3,353.3 618.1,355 618.9,357 620,358.8 620.8,360.4 621.5,362 621.9,363.8 622.8,365.5 623.8,367.2 625,368.8 626,370 627,371.1 627.8,372.5 628.8,373.8 630,375 631.3,376.2 632.5,377.5 633.8,378.8 634.6,380.1 635.5,381.4 636.6,382.5 637.5,383.8 638.8,384.9 640,386.2 641.2,388 641.9,390 642.7,391.3 643.8,392.4 644.6,393.7 645.6,394.8 646.2,396.2 647.2,397.4 647.8,398.8 648.8,400 M636.9,385 639.4,383.8 641.9,386.9 640,387.5 636.9,385 M560,382.5 561.5,382 562.4,380.6 563.8,380 565.1,380.2 566.3,380.6 567.5,381.2 568.7,380.9 570,380.7 571.2,380.6 572.5,380.6 573.3,381.6 574.4,382.1 575.3,383 576.2,383.8 576.9,384.9 578.1,385.7 578.8,386.9 580.6,387.5 581.5,386.5 583,386.5 583.8,385.4 585,385 585.7,383.7 587.1,383 588.1,381.9 589.3,380.8 590.1,379.6 590.6,378.1 591.8,377.5 593.1,377.5 594.4,377.5 595.9,377.7 597.2,378.7 598.8,378.8 600.2,379.3 601.3,380.4 602.5,381.2 603.7,382.1 604.7,383.3 606.2,383.8 607.3,384.7 608.7,385.1 610,385.6 611.2,386.7 612.5,387.5 613.5,388.7 614.4,390 614.5,391.3 614.5,392.5 614.9,393.7 615,395 614.6,396.2 615.4,397.5 614.3,398.7 614.8,400 M513.8,83.2 515.7,83.8 517.6,84 519.5,84.5 521.1,85.3 522.7,86.1 524.4,86.5 525.4,87.7 526.7,88.5 527.6,89.8 526.8,92.2 528.5,91.8 530.1,91 532.1,91 534.1,90.6 534.2,88.9 534.4,87.3 534.9,85.7 536.6,83.6 538.2,83.9 539.8,84.5 540.9,85.8 541.4,87.3 541.1,85.3 540.6,83.2 M569.9,146.9 571.2,146.7 572.6,146.8 574,146.5 575.2,145.9 576.7,146.3 578,145.8 579.3,146.2 580.6,146.1 581.9,146.5 583.2,146.3 584.5,146.6 585.9,146.5 587.1,145.7 588.6,145.8 590,146.4 591.1,147.7 592.6,148.2 594.1,148.2 595.4,147.5 596.9,147.9 598.3,147.4 599.3,146.5 600.3,145.8 601.2,144.8 602.4,144.2 603.7,143.6 604.9,142.6 605.9,141.6 607.2,140.9 608.4,140.2 609.7,140.1 610.8,139.3 612.1,139.3 613.5,139.2 614.8,138.5 616.2,138.5 617.1,137 618.6,136.1 M608.1,91.7 609.2,90.1 612.1,89.8 614.4,91 614.1,93 611.8,94 609.2,93.3 608.1,91.7 M630,110.1 628.5,111 627.1,112 625.9,113.3 625,114.6 624.1,116 623.2,117.4 622.7,119 621.9,120.6 621.2,122.2 621,123.9 620.2,125.5 619.7,127.1 619.4,128.7 619.1,130.4 618.6,132 618.2,134 617.8,136.1 617.1,137.7 615.9,139.2 615.4,140.9 614.4,142.3 613.9,143.8 612.9,145.2 612.1,146.6 611.2,148.4 610.1,150 608.9,151.5 608.3,152.9 607.9,154.4 607.7,156 607.4,157.5 606.9,159 606.4,160.4 M616.2,136.1 618.6,134.4 619.4,136.9 617,139.3 614.6,140.9 616.2,136.1 M500,149.9 501.6,149.5 503.3,149.5 504.9,149.1 507,148.4 508.9,147.4 509.1,149.5 509.8,151.5 510.8,152.9 511.9,154.2 513,155.6 513.3,157.3 513.8,158.9 514.6,160.4 M550,223 550.6,221.3 551.3,219.7 552,218 551.5,216.5 551.2,215 551,213.5 551,212 552.2,210.8 552.8,209.2 554,208 553.5,206.5 553.7,205 553.1,203.5 553,202 555,200 M550,223 552,223.4 554,223.7 556,224 558.3,223.1 560.4,222 M551.2,212.4 550.9,214.2 551.2,216.5 552.8,217.2 555,216.5 557.2,214.2 559.5,211.6 561.8,209.8 562.5,207.5 561.4,206.2 M374.5,99.5 376.4,99.6 378.2,99.2 380,99 380.4,97.5 380.5,96 379.9,94.3 380,92.5 382,92 382.5,93.5 383,95 382.4,96.5 382,98 383,100 384.1,101.3 385,102.7 386,104 386.9,105.6 387.8,107.1 389,108.5 389.9,109.9 390.2,111.6 391,113 391.9,114.3 392.8,115.6 393.5,117 393.9,119.1 395,121 395.9,122.8 397,124.5 398,125.7 399,127 400.2,128.3 401,130 401.2,132.1 402,134 402.6,136 402.5,138 401.9,139.8 401,141.5 399,142.5 398,141.1 397.5,139.5 397.5,138 397.4,136.5 397,135 397,133 396.5,131 396.8,129.4 397.5,128 395.5,127 394,129.5 393,127 392.8,125.5 392.5,124 391.7,122.6 390.5,121.5 388.5,121 387.5,123.5 385.5,122.5 384.9,120.9 384,119.5 382.5,118.3 381,117 379.8,115.5 378.5,114 377.3,112.9 376.5,111.5 378.1,111.3 379.5,110.5 377.7,110.5 376,110 374,109.5 373.6,108 373.6,106.5 373.5,105 373.6,103.1 373.8,101.3 374.5,99.5 M382,136 383.3,136.9 384.5,138 385.8,139.7 387.5,141 388.5,142.5 389.5,144 390,145 M380,135 381,137 382,139 383.1,141 384,143 385,145"/>
<path fill="none" stroke="#000" stroke-width="1.5" stroke-linejoin="round" stroke-linecap="round" d="M520,410 518.6,409.9 518.2,408.4 517.5,409.7 517.8,408.2 516.6,408.5 517.2,407.8 516.3,408.3 515.8,407.6 514.9,406.8 514,406 512.7,405.9 512.8,407.1 512.4,405.9 511.6,406.2 510.5,407.1 509.3,407.1 509.6,408.7 508.9,407.2 508,407 507.7,405.5 507.6,407.1 506.9,406.4 506.3,407.2 506.5,406.3 505.7,405.8 504.4,405.8 503.3,405 504.4,403.8 502.9,404.9 502,405 501.6,406.2 500.2,406.4 499.2,407 499.7,408 498.9,407.3 498.7,408.1 498,409 496.8,408.8 495.6,408.6 494.4,408.8 494.1,409.9 494,408.8 493.2,409.7 493.4,411 492.8,409.7 492,409.2 490.8,409.2 489.6,408.4 488.4,409 489.1,410.8 488,409 487.2,409.4 486,409 485.4,408 485.6,409 484.8,409.4 483.4,409.2 484,410.4 483,409.3 482.2,409.7 481,410 480,411 479.3,410 480.5,409.6 479.1,409.7 478.1,409.3 478,408 476.2,408.8 477.8,407.7 478.1,409.3 476.6,408.6 477.9,409.6 476.7,409.9 476.7,411.1 476,412 475.2,413 474.2,413.9 473.2,414.6 471.9,415.1 470.9,414.6 471.6,415.4 471,416 470.6,414.8 469.2,414.3 469,413 469.8,412.5 468.8,412.7 468.1,413.9 469.2,414.4 467.8,414.1 466.7,413.8 467.3,415 466.3,414.1 466,415 466.5,416.5 468.1,416.9 469,418 468.5,419.1 467.4,419.6 466.2,418.9 467.1,419.9 466.7,420.5 466.3,421.7 465,422 465.4,423 464.7,422.3 464,422.7 463.1,423.5 462.5,424.5 462.1,425.7 460.9,426.3 461.5,427.1 460.6,426.5 460,427 459.3,426.2 459.7,427.3 458.8,427.5 457.7,428.1 456.5,428.5 455.2,428.5 454,429 453.5,430.1 452.5,430.9 452,432 450.6,431.2 449,431 448.6,432.2 449.9,432.5 448.5,432.6 448.3,433.5 448.2,434.7 448,436 447,436.7 447.5,438.2 446.6,436.9 446.2,437.8 444.8,438 444,439 444,440.3 444.1,441.6 445.2,441.4 444,442 442.9,442.7 443,444 442.1,444.8 441.3,445.8 440.2,444.2 441,446 440,446 440,447.3 440,448.6 438.6,449.6 439,451 439.8,452.2 440.6,451.7 440.1,452.4 441.1,452.9 442,454 441.3,454.5 442.3,454.3 441.4,455.2 442.1,456.6 444.2,456.1 442.1,457 440.8,457.7 441,459 441.1,460.3 442.7,460.7 443.9,460.6 442.9,461.1 442.8,462 444.5,461.5 443,462.4 443.2,463.1 444,464 444.3,465.2 445.5,465.8 445.8,467 447.1,466.1 446,467.3 446.2,468.1 447,469 447,470.3 448.1,471.4 446.7,471.5 448.2,471.8 447.6,472.8 448,474 447.5,475 449.7,475.1 447.3,475.4 446.6,475.8 446.4,477 445.5,476.7 446.3,477.3 446,478 M658.8,430.6 657.8,431.5 657.6,432.7 657.4,431.6 656.3,430.7 655.2,431.4 654.6,432.2 653.9,431.6 654.3,432.5 653.9,433 652.6,433 652,433.9 650.7,434.1 649.6,433.5 648.7,434.6 649.3,433.4 648.8,432.6 649.7,431.3 648.4,432.4 648.5,431.4 647.4,430.9 646.6,430.1 646.3,429 645.5,428 644.2,427.9 643.3,427.2 642.2,426.6 641.3,425.9 640.2,425.8 639.1,425.5 638.3,426.7 638.8,425.4 638.2,424.9 639.1,424 637.8,424.8 637.4,424.3 636.4,423.7 636.3,422.4 635.2,422 633.8,422.3 635,421.6 634.9,420.9 634.4,419.9 634.5,418.7 635.3,417.8 634.4,418.3 633.9,417.8 633,418.7 633.7,417.4 633.3,416.8 632.2,416.4 630.8,416.3 630.1,415.2 630,413.5 629.7,415 629.4,414.2 630.1,413.1 629.1,414 628,414 627.6,412.8 626.6,412.2 625.8,411.3 626.9,410.7 625.4,411.1 624.7,410.7 623.4,410.7 622.8,409.5 621.5,410.6 622.4,409.3 622.6,408.4 621.6,407.6 620,407.7 621.4,407.2 621.4,406.5 621.1,405.4 620.6,404.4 619.8,403.5 618.7,403 617.4,402.8 617.8,401.9 617,402.7 616.2,402.2 616,401.1 617.2,401.2 616,400.7 616.3,399.9 615.2,400.3 616.3,399.5 615.2,398.9 615.2,397.7 615.4,396.5 614,397.3 615.4,396.1 615.1,395.4 615.8,394.3 614.8,394.1 615.7,393.9 615.6,393.2 614.6,393.8 615.5,392.8 614.6,392.2 614.8,391.1 614.6,390"/>
<path fill="none" stroke="#000" stroke-width="1.6" stroke-linejoin="round" stroke-linecap="round" d="M158,162 158.1,160.9 158.7,159.9 159.3,159.1 160.2,159.7 159.5,158.7 159.3,157.9 160,157 158.5,158 157.3,158.3 156,158.5 155,156.6 155.6,158.6 155.7,157.4 153.9,158.9 155.5,157.1 154.5,156.8 154.5,155.5 154,154.1 153,153 152.3,151.9 152.5,149.3 151.9,151.7 150.8,152 151.6,151.4 150.4,151.8 150,151 149.3,150 148.5,149.1 148,148 149.2,147 147.8,147.7 147.9,146.8 147.5,145.8 146.5,145 145.9,143.6 143.6,144.3 145.7,143.3 145,142.5 147.3,141.8 144.8,142.2 143.8,142.2 143.7,140.7 144.3,138.2 143.4,140.5 142.5,140.5 143,138.7 142.2,140.3 141.3,140.3 140.5,139.6 140,138.5 141.5,136.6 139.7,138.3 139.1,137.2 138,137.9 138.7,137 137.5,137 137.6,135.9 139.4,137 137.7,135.5 138.7,135.2 138.5,134 140.2,134.3 138.6,133.6 137.8,132.7 137,131.5 137,130.1 135.9,129.2 135.5,128 136.8,127.4 135.3,127.6 M676.2,109.4 677.2,109.6 679.1,108.4 677.5,109.8 677.9,110.2 678.1,111.6 679.4,111.2 680.1,112.5 678.8,113.3 680.2,114.2 678.7,113.7 678.8,114.4 678.2,115.4 677.2,114.5 677.9,115.6 676.9,115.4 676.2,116.2 675.9,117.2 675.6,118.3 676.7,119.5 675.5,118.6 674.6,118.9 674.4,120 673.4,120.6 672.9,121.7 671.7,122 671.2,123.1 670.8,124.1 670.3,122.3 670.5,124.3 669.7,124.2 669.2,125 669.8,126 668.9,125.2 668.1,125 666.9,125.6 667.9,127 668.1,128.1 666.9,128.8 667.1,129.7 667.7,130.4 668.1,131.2 667.6,132.1 666.5,130.3 667.3,132.4 667.4,133.2 668.6,134.7 667.1,133.5 666.6,133.8 666,134.6 665,135 663.2,134.7 664.7,135.3 664.5,135.7 663.8,134.8 664.2,136.1 664.7,137 663.7,135.5 664.5,137.3 662.8,136.8 664.8,137.2 662.6,137.1 663.6,138.4 662.5,138.8 661.7,139.6 663.8,139.9 661.6,140 660.9,140.5 661.2,141.9 660.5,142.9 658.9,142.6 660.4,143.3 661,144.1 662.9,143.6 660.9,144.5 659.9,145 658.8,144.4 659.9,145.4 660.6,146.2 661.2,147.3 660.2,146.7 661.1,147.7 660.4,148.2 658.4,147.8 660.3,148.6 659.6,149.2 659.2,150.1 660.3,150.7 659.1,150.5 660,151.2 659.5,152.1 657.5,152.3 659.4,152.5 659.9,153.2 657.8,153.3 659.9,153.6 658.7,153.9 659.9,154.2 658.6,154.3 659.4,155 M633.8,220.6 634.2,221.5 634.2,222.3 634.6,223.2 633.8,224.2 634.4,225 635.6,225.6 634.5,226.9 635.4,227.5 635.9,228.4 635.6,229.4 636,230.1 636.2,231 637.3,231.1 637.6,231.9 638.1,232.5 638,233.5 638.5,234.2 639.3,234.7 640.1,235.3 640,236.2 640.6,236.8 641.1,237.4 641.4,238.4 642.7,238 643.3,238.7 643.8,239.4 643.6,240.5 644.5,241.2 644.1,242.4 645,243.1 645.5,243.9 646.1,244.7 645.1,245.9 646.4,246.5 646.2,247.5 645.8,248.5 645.6,249.4 646.3,250.2 646.7,251 646.9,251.9"/>
<path fill="none" stroke="#000" stroke-width="1.7" stroke-linejoin="round" stroke-linecap="round" d="M130,83 130.7,84.2 129.1,85.2 126.3,84.8 129.1,85.6 129.6,86.4 127.7,85 129.6,86.8 129.4,87.7 132.9,86.8 129.6,88 131.1,88 130.8,89.3 132.3,87 131,89.6 131.4,90.1 132,91 130.4,92.5 132.2,91.4 133,91.4 133.8,92.7 135.3,90.6 134.2,92.8 135.2,92 134.8,93.5 137.8,90.5 134.9,93.9 135.1,94.7 137.5,94.9 134.4,96.4 137.7,95.3 137.2,96.4 138.4,97.1 135.4,100.4 138.5,97.4 138.2,98.4 139.8,98.1 138.4,98.8 138.9,99.3 139.2,100.4 134.9,100.4 139.4,100.8 139.2,101.5 137.3,102 139.4,101.9 139.5,102.5 137.5,103.8 139.6,102.9 141.1,103 142.6,102.5 141.3,103.3 140,104.6 137.3,105.6 140.2,104.9 141.2,105.2 143.8,103.7 141.4,105.6 141.2,106.5 141.7,107.5 143,106.2 142,107.8 144,106.9 143.7,108.5 142.2,111.2 144,108.8 144.7,109.1 142.3,110.8 144.9,109.4 145.2,110 146.9,108.7 145.5,110.3 145.4,111.4 143.4,108.6 145.2,111.7 143.3,111.6 140.7,108 143.1,112 143.2,112.9 145,113.3 143,113.2 144.2,114.6 146.6,116.3 144.1,115 142.8,115.2 143.3,116.3 142.8,117.5 140.5,117.2 142.8,117.9 143.5,118.6 147.5,120.8 143.5,119 143,119.7 143.5,120.9 145.1,120.8 143.5,121.3 142.8,122 145.5,123.5 142.8,122.4 143.1,123 144,123.7 142.8,124.8 144.2,124 144.6,124.5 145.7,125 147.5,124.7 145.9,125.3 145.9,126.1 146,127.2 147.1,127.6 148,126.3 147.5,127.8 148.4,127.7 149.2,128.8 149.7,130.2 151.2,130 152.8,130 151.7,131.4 153.1,130.3 152.8,131.6 153.8,132.2 153.2,133.8 154.1,132.5 155.2,132.4 156.6,130.4 155.5,132.7 155.2,134 154.1,137.6 155.5,134.3 156.3,134.2 156.9,135.5 157.1,130.8 157.2,135.7 158.6,134.7 159.1,132.8 159,134.9 159.2,135.9 157.8,137.6 159.6,136.1 160,136.8 156.6,139.3 160.3,137 160.7,137.5 161.5,136.1 161,137.8 160.9,139 162.2,137.7 161.2,139.3 162,139.2 164.1,137 162.3,139.5 162.5,140.2 163.9,138.3 162.8,140.5 164,140 160.1,141.5 164.3,140.2 164.2,141.2 165.5,139.7 164.4,141.5 164.5,142.3 162.4,142.6 164.7,142.7 166.1,142.7 167,143.6 166.9,144.9 167.2,146 168.3,146.7 170,144.3 168.5,147 169,147.7 166.6,150.6 169.2,148.1 169.7,148.8 172.5,148.3 169.9,149.1 170,150 170,151.6 168.7,153.3 170.2,151.9 172,151.4 173.5,149.5 172.3,151.7 171.8,153.2 174.9,151.3 172.1,153.5 172.9,153.8 174,154.4 171.7,155.3 174.3,154.7 173.7,155.8 177.2,153.7 173.9,156.1 174.7,156.7 177.3,154.6 174.8,157.1 174.5,158 176.8,157.8 174.6,158.4 176.7,158.5 173.4,159.7 176.8,158.9 176,160 177.1,160.8 180.6,159.8 177.2,161.1 176.2,162.1 178.3,162.3 176.3,162.5 177.3,162.9 174.2,162.5 177.4,163.3 177.2,164 180.3,164.1 177.3,164.4 177,165.3 177.8,166.2 180.8,163 178,166.5 178.8,166.9 181.5,164.5 179,167.3 179.2,168 175.6,170.1 179.4,168.4 179.3,169 179.7,170 177.3,170.4 179.8,170.4 179.1,171.1 178.9,172.2 182.3,171.9 179,172.6 181.1,172.8 180.4,174 183.4,173.8 180.5,174.4 180.8,175.1 177.7,176 180.7,175.5 179.7,175.9 177.1,176.7 179.6,176.3 179.3,176.9 175.9,178 179.2,177.3 180.3,178.1 178.8,178.9 179.2,180 182.2,179.9 179.1,180.4 178.1,180.7 178.1,182.2 176.6,182.7 174.4,179.3 176.4,183 176.4,184 178.1,185.2 176.2,184.3 175.5,184.6 174.5,185.1 173.4,185.1 172.4,185.6 171.5,184.1 172,185.7 171.4,184.8 172.3,183 169.2,184.8 172.1,182.6 170.8,182.4 172.4,182 175.2,184.5 172.7,181.7 173,181 176.6,181.4 173.2,180.6 172.2,178.9 173.6,178.4 174.8,179.8 173.8,178.1 174.5,177.6 176.6,181.1 174.8,177.5 175.1,176.4 176.3,176.3 175.5,174.5 176.7,176.2 177.6,176.4 180.1,178.6 178,176.2 M648.8,260 649.6,260.3 649.7,261.3 651,261.1 651,262.4 652.1,262.3 652.5,263.1 653.1,263.7 653.5,264.5 654.6,264.4 654.8,265.4 655.2,266.2 656.2,266.2 657,267 658,267.3 658.8,268.1 658.7,269.2 657.3,269.5 657.5,270.6 656.5,270.2 656.1,269 655,268.8 654.3,268.2 653.2,268.2 652.6,267.5 651.9,266.9 650.9,267.3 649.8,267.1 648.8,267.5 648.2,268.3 647.2,268.4 646.4,268.8 645.6,269.4 646.6,269.5 646.9,270.7 648,270.8 648.8,271.2 649.6,271.6 650.5,271.6 651.3,271.2 652.1,271 652.9,271 653.8,270.6 654.6,271.2 654.4,272.4 654.6,273.3 655.6,273.8 654.9,274.1 654.2,274.6 653.5,274.9 653.1,275.7 652.5,276.2 651.7,275.5 650.7,275.4 649.6,276.4 648.8,275.6 647.9,276 647.5,276.8 646.7,277.4 646.2,278.1 647.1,278 647.8,278.9 648.8,278.1 649.6,278.6 650.4,278.9 651.2,278.8 652.1,279.2 653.1,279.2 653.9,279.7 654.2,280.8 655,281.2 654.4,282.2 655.1,283.4 654.4,284.4 653.5,284.4 653,285.5 652,285.3 651.2,285.6 650.4,285.3 649.5,285.1 649.2,283.7 648.1,283.8 648.6,284.6 649.6,285 649.6,286.1 650,286.9 649.7,287.8 648.5,287.9 647.8,288.5 647.5,289.4 647.2,290.2 646.9,291 646.9,291.9 645.4,292.1 645.6,293.1 645.6,294.1 644.9,294.9 644.1,295.6 644.6,296.8 643.8,297.5 643.6,298.4 642.8,299.1 642.6,300 642.5,300.9 642.5,301.9 642.3,302.9 641.4,303.3 640.9,304.1 640,304.4 639.2,305 638.1,305.3 637.5,306.2"/>
<path fill="none" stroke="#000" stroke-width="1.8" stroke-linejoin="round" stroke-linecap="round" d="M111,83 110.6,84.1 111.4,85 110,86 111.5,85.4 110.9,86.1 111.6,87 113.6,86.7 111.7,87.4 112.4,87.8 112.5,89.1 114.1,87.7 112.7,89.4 113.2,90 112.8,91.2 113.6,92.2 115.3,92.8 113.7,92.6 113.8,93.3 114,94.4 115.8,93.1 114.1,94.8 113.8,95.5 114.2,96.4 114.8,97.2 115.5,98 115.6,99 116.5,99.7 116.6,100.7 116.9,101.5 117.3,102.4 116.4,103.7 117.2,104.4 116,105.1 117.3,104.8 118.2,104.3 119.2,104 119.6,102.8 118.7,102 120.4,101.8 118.6,101.6 117.8,101.1 115.9,101.5 117.7,100.7 118.2,99.9 117,99.8 118,99.5 117.6,99 118,98 117.9,97 116.9,96.2 116.6,95.3 117.3,94.2 116.7,93.3 116.4,92.4 116.6,91.5 117.6,90.8 117.6,89.9 119.3,90.2 117.7,89.5 117.1,88.8 118,89.5 117.2,88.4 117.6,88 119.4,88.7 117.7,87.6 117.1,86.8 118.6,85.9 116.4,86.7 118.6,85.5 118.4,84.7 118.4,83.6 117.2,83.5 116.4,85.5 116.8,83.4 116,83 115.5,85.1 115.6,82.9 M633.8,220.6 634.1,222 633.5,222.7 632.3,222.9 631.4,221.7 632.1,223.2 632,223.8 631.2,224.4 630.8,225.1 630.3,225.8 631.2,227 630.1,226.1 631.1,227.1 630.3,227.7 629.4,228.1 630,228.8 628.4,230.8 630.2,229.2 630.6,229.5 631.3,230.1 631.2,231.2 632.4,231.1 631.5,231.6 631.6,232 632.7,232.4 632,233.7 633.7,233.6 632.2,234 632,234.6 633.1,235 634.5,235.2 635.1,236 635.2,237 636.2,236.7 635.4,237.3 635,238.1 636.1,236.4 635.2,238.5 634.9,239.5 636.9,238.7 636.7,240.2 637.9,240.2 637.3,242 638.2,240.5 638.1,241.2 638.9,241.8 638.8,243 639.9,243.3 638.2,243.8 640.2,243.6 639.4,244.7 640.7,243.5 639.6,245.1 640.6,245 641.6,245.6 642.9,245.3 641.7,246 641.1,246.7 642.3,247.2 640.8,248.7 642,249.2 642.5,250 643.6,250.3 642.6,252.1 643.6,252.5 642.3,253.2 643.8,252.9 645.3,252.5 647.6,252.1 645.5,252.8 645,253.8 643.5,255.5 645.2,254.1 645.5,254.4 646.5,254.6 647.1,255.2 646.5,256.6 647.5,256.9 648.6,255.5 647.7,257.2 M360,106.5 361.2,106.3 362.1,105.7 363,105 363.9,105.6 364.9,105.9 366,106 366.9,106.8 367.9,107.4 369.1,107.7 370,108.5 370.6,109.4 371.5,110 372.5,110.5 371.5,111.5 370.5,111.2 369.4,111.2 368.5,110.5 367.4,109.9 366,109.9 365,109 363.9,108.7 362.7,108.2 361.5,108.5 360.8,107.5 360,106.5"/>
<path fill="none" stroke="#000" stroke-width="1.9" stroke-linejoin="round" stroke-linecap="round" d="M466.2,129.4 467.5,129.1 468.4,128.2 469.4,127.5 470.5,127.7 471,128.9 472.2,128.8 473.1,129.4 473.2,130.5 474.2,131.4 474.4,132.6 474.4,133.8 473.8,134.8 473.8,135.9 474.4,137.1 473.8,138.1 472.5,138.6 471.3,139 470,139.4 468.8,139 467.7,138.5 466.9,137.5 466.3,136.3 465.7,135.1 465.6,133.8 465.5,132.6 466.3,131.6 466,130.4 466.2,129.4 M359.5,112 360.6,111.6 361.9,112.1 363,111.5 364.3,111.8 365.3,112.6 366.5,113 367,113.9 367.7,114.8 368.5,115.5 368.8,116.7 368.7,118 369.5,119 370.1,119.9 369.7,121.1 370.2,122 370.5,123 370.9,124.2 372,124.9 372.5,126 373.8,126.1 374.8,127.2 376,127.5 377,127.6 377.9,128.2 379,128 380.3,128.7 381,130 381.7,130.9 381.5,132.3 382.5,133 382.5,134 382.5,135.1 382,136 381,135.6 380,135 380.1,133.7 378.8,132.8 379,131.5 377.8,130.7 376.5,130 375.5,130 374.4,130 373.5,130.5 372.6,129.9 371.3,130 370.5,129 369.5,128.2 369.1,127 368.5,126 367.7,125.1 367.9,124 367.4,123.1 367.5,122 367.5,121 366.7,120.1 367,119 367,118 366.4,116.7 365.5,115.5 364.3,115.2 363,115 361.7,115.1 360.5,114.5 360.2,113.2 359.5,112"/>
<path fill="none" stroke="#000" stroke-width="2.0" stroke-linejoin="round" stroke-linecap="round" d="M375,200 374.7,201.1 375.2,202 375.8,202.9 376,203.9 375.9,205 375.3,206.1 375.4,207.1 376,208 376.7,208.9 377.1,210 377.5,211 378,212 377,212.8 377.1,214 376.7,215.1 376,216 376.7,216.8 377.9,217.1 378.2,218.3 379,219 378.5,220 377.2,219.9 376.6,220.9 375.5,221 375,222 374,222.4 373.1,222.9 372,223 372.9,223.8 373.9,223.9 375.1,223.2 376,224 376.7,225 377.8,225.4 379,225.6"/>
<path fill="none" stroke="#000" stroke-width="2.2" stroke-linejoin="round" stroke-linecap="round" d="M305,190 305.9,189.5 306.9,189 307.9,188.6 309.2,189.3 310,188.4 311,188.2 312.1,188 313,187.5 313.9,186.9 315.1,187 316,186.4 317.1,185.9 318.2,185.5 319.1,184.8 320,184 320.7,185.3 322,186 322,187.2 322.2,188.5 321.6,189.6 M343,179.4 344,179.4 344.9,178.4 346,178.6 346.9,178.4 348,178.6 348.9,179.3 349.9,179.6 350.8,180.2 352.2,179.5 353,180.4 353.8,181.2 355,181.8 355.6,182.8 356,184 357,184.6 358.3,184.5 359.2,185.3 360,186.2 361.1,186.1 362,185.7 362.9,185 364,185.2 365.1,185.2 365.8,183.8 367,184.2 M362.5,96.5 363.7,96 365,95.5 366.3,95.5 366.8,96.9 368,97 368.1,98.4 369,99.5 367.6,100.1 367,101.5 365.9,102.1 365,103 363.8,102.9 363,102 362.3,101.1 362.3,100.1 362.5,99 363,97.8 362.5,96.5"/>
<path fill="none" stroke="#000" stroke-width="2.4" stroke-linejoin="round" stroke-linecap="round" d="M404.4,86 406,85.2 407.6,84.4 410,84 M416.2,146.9 417.5,146.3 418.8,145.6 420,146.1 421.3,146.4 422.5,146.9 423,147.8 423.8,148.4 424.4,149.2 425,150 425.6,151.2 425.9,152.4 425.6,153.8 424.9,154.7 424.8,156.1 423.8,156.9 422.4,157 421.2,157.5 420.2,157.5 419.2,157.7 418.1,157.5 417.9,156.4 417.1,155.7 416.6,154.7 416.2,153.8 417,152.8 417.1,151.7 417.5,150.6 417.1,149.4 416.1,148.3 416.2,146.9"/>
<path fill="#000" stroke="#000" stroke-width="1.2" stroke-linejoin="round" d="M428.8,133.1 429.9,133.8 429.7,135.4 430.3,133.9 431.3,133.4 431,132.2 431.7,133.5 432.5,134 433.7,133.6 435,133.1 434.6,132.1 435.4,133 436.2,132.8 436.4,131.3 436.6,132.6 436.7,131.8 437.9,131.6 438.3,130.5 439.4,130.2 440.5,129.9 441.3,128.9 442.5,128.8 442,129.7 442,130.8 442.8,131.6 441.9,131.2 441.9,131.9 441.9,132.9 442,134 442.5,135 441.2,134.9 440,135 438.8,135.4 438.3,134 438.4,135.4 437.5,136.2 436.2,136.9 435,137.1 433.8,137.3 432.5,136.9 432.6,138.3 432.1,136.9 432,135.9 430.7,136.7 431.8,135.5 431.2,135 430.5,134.2 429.6,133.7 429.3,134.7 429.3,133.4 428.8,133.1Z M430.6,156.2 432,156.4 431.7,155.2 432.4,156.3 433.1,155.6 434.3,156.1 435.1,157 436.2,157.5 437.6,157.7 438.9,157.9 440,158.8 440.2,160.3 440.4,158.9 440.6,159.8 441.8,159.9 442.5,160.6 441.2,160.8 440,161.2 440.9,162.5 439.6,161.3 438.8,161.2 438.8,160.4 438.4,161.3 437.6,160.6 436.3,160.2 435,160 434.1,159.3 432.8,159.5 432.6,158.2 432.4,159.4 431.9,158.8 431.2,157.5 430.6,156.2Z M543.9,119.8 545,119.9 546.1,119.4 547.1,119 548.3,119.3 549.4,119.9 550.4,120.6 551.6,120.2 552.8,119.8 552.9,121.1 553.6,122.2 552.5,122.4 551.5,122.8 550.4,123.1 549.3,122.5 548.2,123 547.1,122.6 545.7,122.2 544.2,122.2 544.3,121 543.9,119.8Z M585.3,104.4 586.1,103.7 587.3,104.3 586.4,103.4 587.2,103.2 588,102.5 588.6,101.5 587.5,100.8 588.9,101.2 589.6,100.5 591,100.3 591.5,101.5 592.8,101.7 593.4,102.8 594.7,102.7 595.2,101.5 595.1,102.9 595.4,104 596.7,104 595.6,104.4 594.3,103.9 595.3,104.6 595.2,105.6 594.2,106 593.2,106 592,106.1 591,105.7 589.8,106.3 589.3,107.5 588.6,108.4 588.2,107.6 588.3,108.7 587.2,108.5 585.8,108.4 584.8,107.4 584.5,106 585.3,104.4Z M406,92.5 407,92.6 407.9,91.8 409,92 410.1,92.5 411.3,92.7 412.5,93 411.8,93.9 411.5,95 410.4,95.5 409.2,95.7 408,96 406.7,95.4 405.5,94.5 406,93.6 406,92.5Z"/>
</g>
<rect x="100.5" y="82.5" width="620" height="395.8" fill="none" stroke="#000" stroke-width="1.3" stroke-linejoin="round"/>
<rect x="100.50" y="498.30" width="155.30" height="20.00" fill="#fee2d5"/>
<rect x="255.50" y="498.30" width="155.30" height="20.00" fill="#fc9879"/>
<rect x="410.50" y="498.30" width="155.30" height="20.00" fill="#f03f2e"/>
<rect x="565.50" y="498.30" width="155.30" height="20.00" fill="#a50f15"/>
<line x1="255.50" x2="255.50" y1="512.70" y2="518.30" stroke="#000" stroke-width="0.8"/>
<line x1="410.50" x2="410.50" y1="512.70" y2="518.30" stroke="#000" stroke-width="0.8"/>
<line x1="565.50" x2="565.50" y1="512.70" y2="518.30" stroke="#000" stroke-width="0.8"/>
<rect x="100.50" y="498.30" width="620.00" height="20.00" fill="none" stroke="#000" stroke-width="1.3"/>
</svg>
<div class="t" id="title">Day 223, 33 events</div>
<div class="t tick" style="left:59.9px">0.1</div>
<div class="t tick" style="left:215.3px">1.0</div>
<div class="t tick" style="left:370.3px">2.0</div>
<div class="t tick" style="left:525.3px">3.0</div>
<div class="t tick" style="left:680.9px">4.0</div>
<div class="t" id="cbl">N Events</div>
</body></html>
